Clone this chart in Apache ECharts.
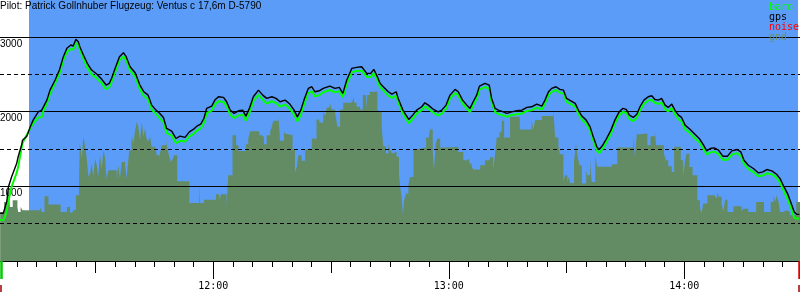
<!DOCTYPE html>
<html>
<head>
<meta charset="utf-8">
<script src="https://cdn.jsdelivr.net/npm/echarts@6.0.0/dist/echarts.min.js"></script>
<style>html,body{margin:0;padding:0;background:#fff}#c{width:800px;height:300px}</style>
</head>
<body>
<div id="c"></div>
<script>
// ---- text ----
const pilotTitle = "Pilot: Patrick Gollnhuber Flugzeug: Ventus c 17,6m D-5790";
const legendNames = ['baro', 'gps', 'noise', 'gnd'];
const legendColors = ['#00ff00', '#000000', '#ff0000', '#6b8f6b'];

// ---- time axis (minutes since midnight) ----
const xMin = 665.66, xMax = 869.47;
const fiveMinTicks = [670,675,680,685,695,700,705,710,715,725,730,735,740,745,755,760,765,770,775,785,790,795,800,805,815,820,825,830,835,845,850,855,860,865];
const halfHourTicks = [690, 750, 810];
const hourTicks = [720, 780, 840];
const takeoffTime = 665.9, landingTime = 869.2;
const highlightStart = 673.05, highlightEnd = 868.97;

// ---- altitude axis ----
const yMax = 3496;
const altLabels = [1000, 2000, 3000];

// ---- flight track ----
const times = [665.7,666.5,667.0,667.4,667.8,668.6,669.9,670.3,671.2,671.4,
672.5,673.3,674.1,675.4,676.3,676.7,677.6,678.4,679.7,680.8,
681.8,682.7,683.7,684.3,685.0,685.6,686.0,686.9,687.9,689.0,
690.3,691.6,692.7,693.5,694.1,695.0,696.1,697.1,697.8,698.8,
700.1,701.3,702.3,703.4,704.3,705.4,706.2,707.3,708.1,709.4,
710.5,711.5,712.8,713.9,714.9,715.8,716.8,717.6,718.3,719.6,
720.4,721.3,722.6,723.4,724.3,725.3,726.4,727.5,728.3,729.2,
730.2,731.5,732.6,733.6,734.9,736.0,737.0,738.3,739.5,740.6,
741.4,742.3,743.1,744.2,745.1,745.9,747.0,748.0,749.7,751.0,
752.1,753.0,754.0,755.3,756.5,757.8,759.1,760.1,760.9,761.8,
762.5,763.3,764.6,765.5,766.6,767.1,768.3,769.1,769.8,770.8,
771.8,773.1,773.9,774.8,776.1,777.3,778.2,779.3,780.3,781.6,
782.4,783.5,784.6,785.4,786.2,787.1,787.8,789.2,790.3,790.9,
791.8,792.6,793.9,794.8,796.0,797.3,798.6,799.9,801.1,802.4,
803.7,804.5,805.4,806.2,807.3,808.3,809.2,810.0,811.1,812.2,
813.0,813.9,815.0,816.0,816.8,817.7,818.3,819.2,820.2,821.3,
822.3,823.4,824.3,825.2,826.0,827.0,827.9,828.7,829.7,830.8,
831.7,832.5,833.4,834.2,835.1,835.9,836.8,837.6,838.5,839.3,
840.2,841.5,842.7,843.8,844.9,845.7,846.6,847.6,848.7,849.8,
851.0,852.1,853.4,854.4,855.2,856.3,857.6,858.9,860.0,861.0,
862.3,863.5,864.4,865.4,866.3,867.1,868.0,868.6,869.3];

const gps = [639,639,640,800,992,1126,1305,1400,1560,1618,
1672,1788,1887,1998,2021,2000,2155,2289,2424,2558,
2737,2849,2893,2880,2970,2938,2871,2759,2648,2558,
2504,2433,2357,2379,2447,2581,2737,2790,2737,2602,
2522,2357,2267,2222,2088,2021,1985,1923,1775,1739,
1641,1672,1655,1730,1762,1806,1833,1909,2044,2075,
2155,2200,2191,2133,2021,1977,2012,2021,1941,2044,
2200,2289,2222,2178,2200,2178,2133,2155,2102,2021,
1931,2021,2155,2312,2334,2267,2280,2312,2343,2312,
2325,2245,2424,2581,2594,2602,2513,2513,2567,2468,
2379,2334,2267,2236,2267,2178,2021,1954,1896,1954,
2021,2066,2119,2088,2030,1998,2021,2088,2222,2299,
2267,2155,2088,2044,2133,2222,2343,2379,2357,2178,
2044,2021,1998,1977,1998,2012,2021,2057,2066,2102,
2075,2155,2267,2312,2334,2299,2289,2178,2146,2111,
2021,1941,1887,1797,1663,1529,1494,1551,1641,1753,
1887,1998,2044,2030,1954,1923,1967,2066,2155,2200,
2213,2164,2155,2178,2088,2057,2102,2021,1954,1923,
1820,1762,1699,1641,1551,1475,1507,1515,1484,1404,
1404,1475,1494,1461,1350,1283,1239,1180,1193,1225,
1207,1162,1104,992,903,790,656,625,625];

const baro = [554,545,600,679,800,992,1180,1261,1529,1580,
1690,1770,1842,1923,1930,2010,2110,2240,2380,2510,
2690,2800,2840,2830,2920,2900,2830,2710,2590,2500,
2450,2380,2300,2330,2400,2530,2690,2740,2690,2550,
2470,2300,2210,2170,2030,1970,1920,1860,1715,1680,
1580,1610,1600,1670,1700,1745,1775,1850,1980,2015,
2095,2140,2130,2075,1960,1915,1950,1960,1880,1980,
2140,2225,2160,2110,2140,2115,2070,2095,2040,1960,
1870,1960,2095,2250,2275,2205,2220,2260,2290,2260,
2275,2195,2370,2530,2545,2550,2465,2465,2515,2420,
2330,2285,2215,2185,2215,2130,1975,1905,1845,1905,
1975,2020,2070,2040,1985,1950,1975,2040,2175,2250,
2220,2110,2040,1995,2085,2175,2295,2330,2310,2130,
1995,1970,1950,1930,1955,1965,1975,2010,2020,2055,
2030,2110,2220,2265,2290,2255,2245,2130,2100,2065,
1975,1895,1840,1750,1615,1480,1445,1505,1595,1705,
1840,1950,1995,1985,1905,1875,1920,2015,2105,2150,
2160,2115,2105,2125,2035,2005,2050,1970,1900,1870,
1765,1710,1645,1590,1500,1425,1455,1465,1435,1355,
1355,1425,1445,1410,1300,1235,1190,1135,1145,1175,
1160,1115,1050,930,830,720,580,568,568];

const noise = [];

// ---- ground elevation [time, metres] ----
const ground = [[665.7,656],[666.7,790],[667.4,656],[667.8,1014],[668.2,723],[668.9,813],[670.1,723],[670.3,656],[670.9,723],[671.4,679],
[675.9,723],[676.3,656],[677.0,866],[678.0,758],[681.1,656],[682.7,723],[683.5,650],[684.2,679],[685.0,880],[685.8,1126],
[686.0,1574],[686.5,1373],[686.9,1663],[687.3,1550],[687.7,1395],[688.2,1126],[688.6,1170],[689.0,1305],[689.4,1126],[689.9,1373],
[690.3,1280],[690.7,1126],[691.1,1416],[691.6,1240],[692.0,1484],[692.4,1395],[692.8,1104],[693.3,1216],[695.4,1104],[695.8,1283],
[696.2,1104],[696.7,1327],[697.5,1283],[697.9,1104],[698.1,1216],[698.6,1484],[699.2,1686],[699.6,1574],[700.1,1752],[700.5,1864],
[700.9,1797],[701.3,1619],[701.8,1864],[702.2,1663],[702.6,1775],[703.0,1640],[703.4,1600],[703.9,1663],[704.3,1530],[705.2,1540],
[705.6,1416],[706.3,1305],[706.4,1440],[706.9,1551],[708.0,1618],[708.3,1500],[708.8,1395],[709.2,1327],[709.7,1370],[710.0,1416],
[710.8,1068],[713.9,777],[716.4,1000],[716.6,777],[717.6,822],[720.7,894],[721.5,822],[722.0,894],[723.4,723],[723.8,1149],
[724.9,1686],[725.8,1550],[726.4,1475],[728.3,1564],[728.9,1641],[729.4,1739],[731.7,1686],[732.3,1660],[732.9,1564],[733.6,1686],
[734.5,1739],[734.9,1797],[735.3,1878],[736.6,1941],[737.0,1610],[738.0,1739],[738.3,1700],[738.9,1686],[740.2,1494],[740.8,1180],
[741.3,1261],[741.7,1416],[742.5,1342],[743.4,1494],[745.1,1641],[745.7,1630],[746.3,1896],[747.0,1860],[747.2,1851],[748.0,1998],
[748.5,1941],[748.9,2057],[749.7,2119],[750.2,2030],[751.0,1990],[751.3,1909],[751.6,1797],[752.3,2030],[753.1,2119],[755.3,2200],
[755.4,2119],[755.8,2200],[755.9,2119],[756.5,2066],[757.4,2030],[758.1,2222],[758.9,2030],[759.2,2222],[759.9,2267],[761.8,2030],
[762.3,2000],[762.9,1797],[763.3,1537],[764.0,1440],[764.6,1564],[765.0,1500],[765.5,1440],[766.0,1460],[766.7,1395],[767.3,1171],
[767.6,993],[768.0,858],[768.3,612],[768.6,813],[769.1,903],[769.7,1014],[770.1,1126],[771.0,1494],[771.8,1520],[774.2,1655],
[774.8,1620],[775.2,1762],[775.9,1490],[776.2,1216],[776.7,1574],[777.1,1641],[777.8,1520],[779.9,1530],[782.4,1461],[783.7,1350],
[784.6,1370],[785.2,1305],[785.8,1275],[786.2,1225],[788.0,1283],[789.2,1350],[790.5,1390],[791.3,1216],[791.8,1440],[792.2,1655],
[792.9,1730],[793.5,1878],[794.1,1655],[795.6,1931],[798.1,1762],[801.1,1887],[801.5,1762],[802.0,1887],[803.7,1941],[806.6,2030],
[807.1,1655],[807.9,1551],[808.3,1430],[809.2,1059],[809.6,1149],[810.2,1045],[810.5,1130],[810.9,1045],[811.4,1040],[811.9,1336],
[812.4,1574],[812.8,1395],[813.3,1283],[813.9,1037],[815.0,1216],[815.3,1150],[816.0,1350],[816.4,1059],[817.3,1404],[817.8,1261],
[821.5,1296],[822.9,1520],[827.0,1663],[827.4,1404],[827.9,1699],[828.7,1708],[830.6,1551],[831.4,1672],[832.5,1744],[832.8,1551],
[834.8,1440],[835.3,1350],[835.9,1269],[836.8,1193],[837.4,1529],[839.1,1350],[839.7,1126],[840.2,1350],[840.6,1440],[841.3,1260],
[842.1,1149],[843.3,813],[844.0,702],[844.4,640],[844.8,769],[845.9,880],[847.8,850],[848.4,920],[848.8,860],[849.5,769],
[849.9,660],[850.4,822],[851.0,656],[852.5,733],[854.6,656],[855.0,700],[856.3,656],[858.3,790],[860.3,656],[862.0,790],
[862.7,880],[863.1,790],[863.5,880],[864.0,790],[864.4,656],[865.2,680],[866.1,656],[866.9,612],[868.5,790],[869.5,790]];

// ---- build chart ----
const pad = n => (n < 10 ? '0' : '') + n;
const fmtTime = v => Math.floor(v / 60) + ':' + pad(Math.round(v % 60));
const zip = (a, b) => a.map((t, i) => [t, b[i]]);

function xAxisOf(extra) {
  return Object.assign({
    type: 'value', min: xMin, max: xMax, position: 'bottom', gridIndex: 0, z: 3,
    splitLine: { show: false }, axisLine: { show: false },
    axisLabel: { show: false }, axisTick: { show: false }
  }, extra);
}

const chart = echarts.init(document.getElementById('c'), null, { renderer: 'canvas' });
chart.setOption({
  animation: false,
  backgroundColor: '#ffffff',
  grid: { left: 0, right: 0, top: 0, bottom: 39, containLabel: false, outerBoundsMode: 'none' },
  xAxis: [
    xAxisOf({ axisLine: { show: true, lineStyle: { color: '#000', width: 1 } },
              axisTick: { show: true, customValues: fiveMinTicks, length: 6, lineStyle: { color: '#000', width: 1 } } }),
    xAxisOf({ axisTick: { show: true, customValues: halfHourTicks, length: 12, lineStyle: { color: '#000', width: 1 } } }),
    xAxisOf({ axisTick: { show: true, customValues: hourTicks, length: 18, lineStyle: { color: '#000', width: 1 } },
              axisLabel: { show: true, customValues: hourTicks, formatter: fmtTime, margin: 20,
                           fontFamily: 'DejaVu Sans Mono', fontSize: 10, color: '#000' } }),
    xAxisOf({ axisTick: { show: true, customValues: [takeoffTime], length: 18, lineStyle: { color: '#00cc00', width: 2.5 } } }),
    xAxisOf({ axisTick: { show: true, customValues: [landingTime], length: 18, lineStyle: { color: '#e00000', width: 2.5 } } }),
    xAxisOf({ offset: 24, axisTick: { show: true, customValues: [takeoffTime, landingTime], length: 7, lineStyle: { color: '#a00000', width: 1.5 } } })
  ],
  yAxis: [
    { type: 'value', min: 0, max: yMax, interval: 1000, position: 'left', z: 3,
      axisLine: { show: false }, axisTick: { show: false },
      splitLine: { show: true, showMaxLine: false, lineStyle: { color: '#000', width: 1 } },
      axisLabel: { inside: true, margin: 0, customValues: altLabels, formatter: v => String(v),
                   verticalAlign: 'top',
                   padding: [2, 0, 0, 0], fontFamily: 'Liberation Sans', fontSize: 10, color: '#000' } },
    { type: 'value', min: 0, max: yMax, interval: 500, position: 'left', z: 3,
      axisLine: { show: false }, axisTick: { show: false }, axisLabel: { show: false },
      splitLine: { show: true, showMaxLine: false, showMinLine: false, lineStyle: { color: '#000', width: 1, type: [4, 3] } } }
  ],
  series: [
    { name: 'background', type: 'line', data: [], z: 1, silent: true, symbol: 'none',
      markArea: { silent: true, itemStyle: { color: '#5a9cf8', opacity: 1 },
                  data: [[{ xAxis: highlightStart }, { xAxis: highlightEnd }]] } },
    { name: 'gnd', type: 'line', step: 'end', symbol: 'none', z: 2, silent: true,
      data: ground, lineStyle: { width: 0, color: '#648c64' },
      areaStyle: { color: '#648c64', opacity: 1 } },
    { name: 'noise', type: 'line', symbol: 'none', z: 4, data: zip(times.slice(0, noise.length), noise),
      lineStyle: { color: '#ff0000', width: 1 } },
    { name: 'baro', type: 'line', symbol: 'none', z: 5, data: zip(times, baro),
      lineStyle: { color: '#00ff00', width: 2 } },
    { name: 'gps', type: 'line', symbol: 'none', z: 6, data: zip(times, gps),
      lineStyle: { color: '#000000', width: 1.4 } }
  ],
  graphic: [
    { type: 'text', left: 0, top: 1, z: 100,
      style: { text: pilotTitle, font: '10px "Liberation Sans"', fill: '#000' } }
  ].concat(legendNames.map((n, i) => ({
    type: 'text', x: 769, y: 2 + i * 10, z: 100,
    style: { text: n, font: '10px "DejaVu Sans Mono"', fill: legendColors[i], textVerticalAlign: 'top' }
  })))
});
</script>
</body>
</html>
